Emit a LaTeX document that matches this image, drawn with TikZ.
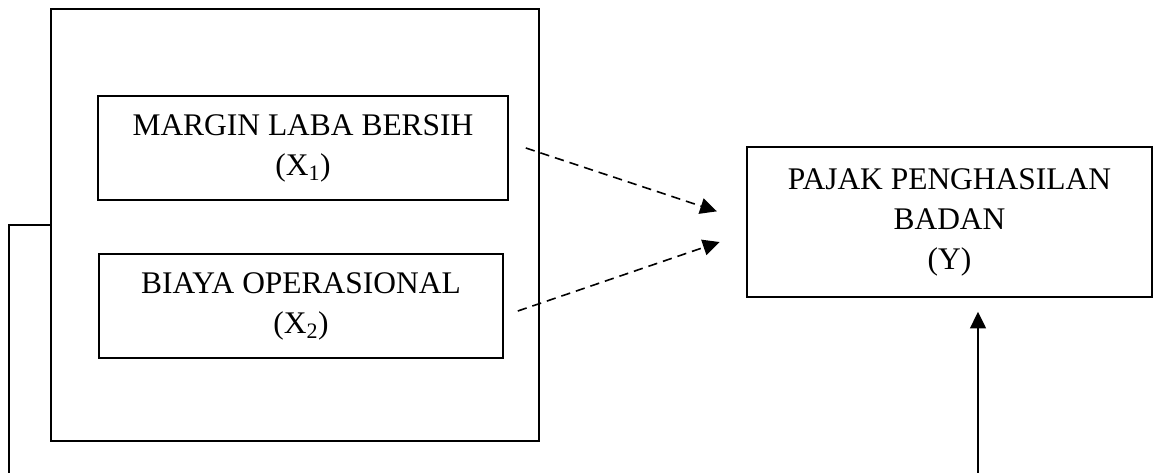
\documentclass[tikz,border=0pt]{standalone}
\usepackage{fontspec}
\setmainfont{Liberation Serif}
\usetikzlibrary{arrows.meta}
\begin{document}
\begin{tikzpicture}[x=0.75pt,y=-0.75pt,line width=1.2pt,
        varbox/.style={draw,align=center,font=\fontsize{23.6}{30}\selectfont},
        dasharrow/.style={dash pattern=on 7pt off 4.5pt,-{Triangle[length=12.5pt,width=12pt]}},
        solidarrow/.style={-{Triangle[length=12.5pt,width=12pt]}}]
        \useasboundingbox (0,0) rectangle (1155,472);
        \node[draw,minimum width=366pt,minimum height=324pt] (outer) at (295,225) {};
        \node[varbox,minimum width=307.5pt,minimum height=78pt] (mlb) at (303,148) {MARGIN LABA BERSIH\\(X\textsubscript{1})};
        \node[varbox,minimum width=303pt,minimum height=78pt] (bo) at (301,306) {BIAYA OPERASIONAL\\(X\textsubscript{2})};
        \node[varbox,minimum width=303.75pt,minimum height=112.5pt] (ppb) at (949.5,222) {PAJAK PENGHASILAN\\BADAN\\(Y)};
        \coordinate (lb) at (9,476);
        \coordinate (rb) at (978,476);
        \draw[dasharrow] ([xshift=12.75pt]mlb.east) -- ([xshift=-22pt,yshift=8pt]ppb.west);
        \draw[dasharrow] ([xshift=10.5pt,yshift=-3.75pt]bo.east) -- ([xshift=-20pt,yshift=-15pt]ppb.west);
        \draw (lb) |- (outer.west);
        \draw[solidarrow,shorten >=10.5pt] (rb) -- (rb |- ppb.south);
    \end{tikzpicture}
\end{document}
